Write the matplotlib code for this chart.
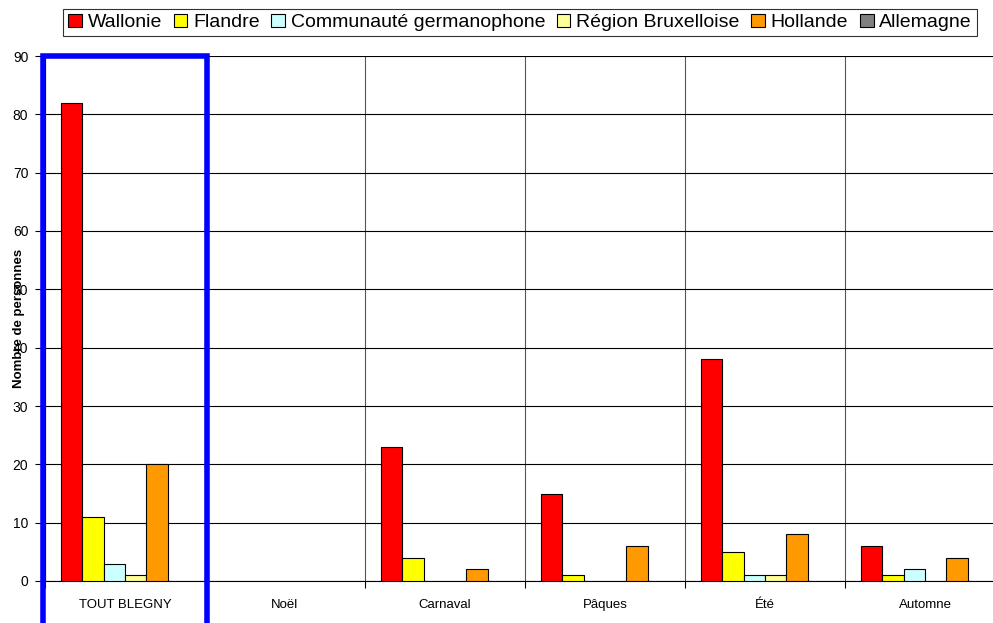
import matplotlib
matplotlib.use("Agg")
import matplotlib.pyplot as plt
from matplotlib.patches import Rectangle, Patch
import numpy as np

categories = ["TOUT BLEGNY", "Noël", "Carnaval", "Pâques", "Été", "Automne"]
series_names = ["Wallonie", "Flandre", "Communauté germanophone", "Région Bruxelloise", "Hollande", "Allemagne"]
wallonie = [82, 0, 23, 15, 38, 6]
flandre = [11, 0, 4, 1, 5, 1]
germanophone = [3, 0, 0, 0, 1, 2]
bruxelles = [1, 0, 0, 0, 1, 0]
hollande = [20, 0, 2, 6, 8, 4]
allemagne = [0, 0, 0, 0, 0, 0]
colors = ["#FF0000", "#FFFF00", "#CCFFFF", "#FFFF99", "#FF9900", "#808080"]
yticks = [0, 10, 20, 30, 40, 50, 60, 70, 80, 90]

plt.rcParams['font.family'] = ['Liberation Sans', 'DejaVu Sans']

fig = plt.figure(figsize=(9.93, 6.23), dpi=100)
ax = fig.add_axes([45/993, 42/623, 960/993, 525/623])

series = [wallonie, flandre, germanophone, bruxelles, hollande, allemagne]
n = len(series)
x = np.arange(len(categories))
bw = 0.8 / n
for i, (vals, c) in enumerate(zip(series, colors)):
    vals = np.array(vals, dtype=float)
    pos = x - 0.4 + bw * (i + 0.5)
    mask = vals > 0
    ax.bar(pos[mask], vals[mask], width=bw, color=c, edgecolor="black", linewidth=0.8, zorder=3)

ax.set_xlim(-0.5, len(categories) - 0.5)
ax.set_ylim(0, 90)
ax.set_yticks(yticks)
ax.set_yticklabels([str(t) for t in yticks], fontsize=10)
ax.tick_params(axis='y', length=7, width=0.8, pad=5)
ax.set_xticks(x)
ax.set_xticklabels(categories, fontsize=9.5)
ax.tick_params(axis='x', length=0, pad=13)
ax.set_xticks(np.arange(len(categories) + 1) - 0.5, minor=True)
ax.tick_params(axis='x', which='minor', length=5, width=0.8)
ax.grid(axis='y', color='black', linewidth=0.8, zorder=0)
ax.grid(axis='x', which='minor', color='#555555', linewidth=0.8, zorder=0)
for s in ['top', 'right']:
    ax.spines[s].set_visible(False)
ax.spines['left'].set_linewidth(0.8)
ax.spines['bottom'].set_linewidth(0.8)

ax.set_ylabel("Nombre de personnes", fontsize=9.5, fontweight='bold')
ax.yaxis.set_label_coords(-0.021, 0.5)

rect = Rectangle((-0.5 - 0.01, -20), 1.02, 110, fill=False, edgecolor="#0000FF",
                 linewidth=4, clip_on=False, zorder=5)
ax.add_patch(rect)

handles = [Patch(facecolor=c, edgecolor='black', linewidth=0.8) for c in colors]
leg = fig.legend(handles, series_names, loc='center', bbox_to_anchor=(0.5237, 0.964), ncol=6,
                 fontsize=14, handlelength=0.7, handleheight=0.7, handletextpad=0.3,
                 columnspacing=0.6, borderpad=0.25, fancybox=False, frameon=True)
leg.get_frame().set_edgecolor('black')
leg.get_frame().set_linewidth(0.8)

fig.savefig("out.png", dpi=100)
